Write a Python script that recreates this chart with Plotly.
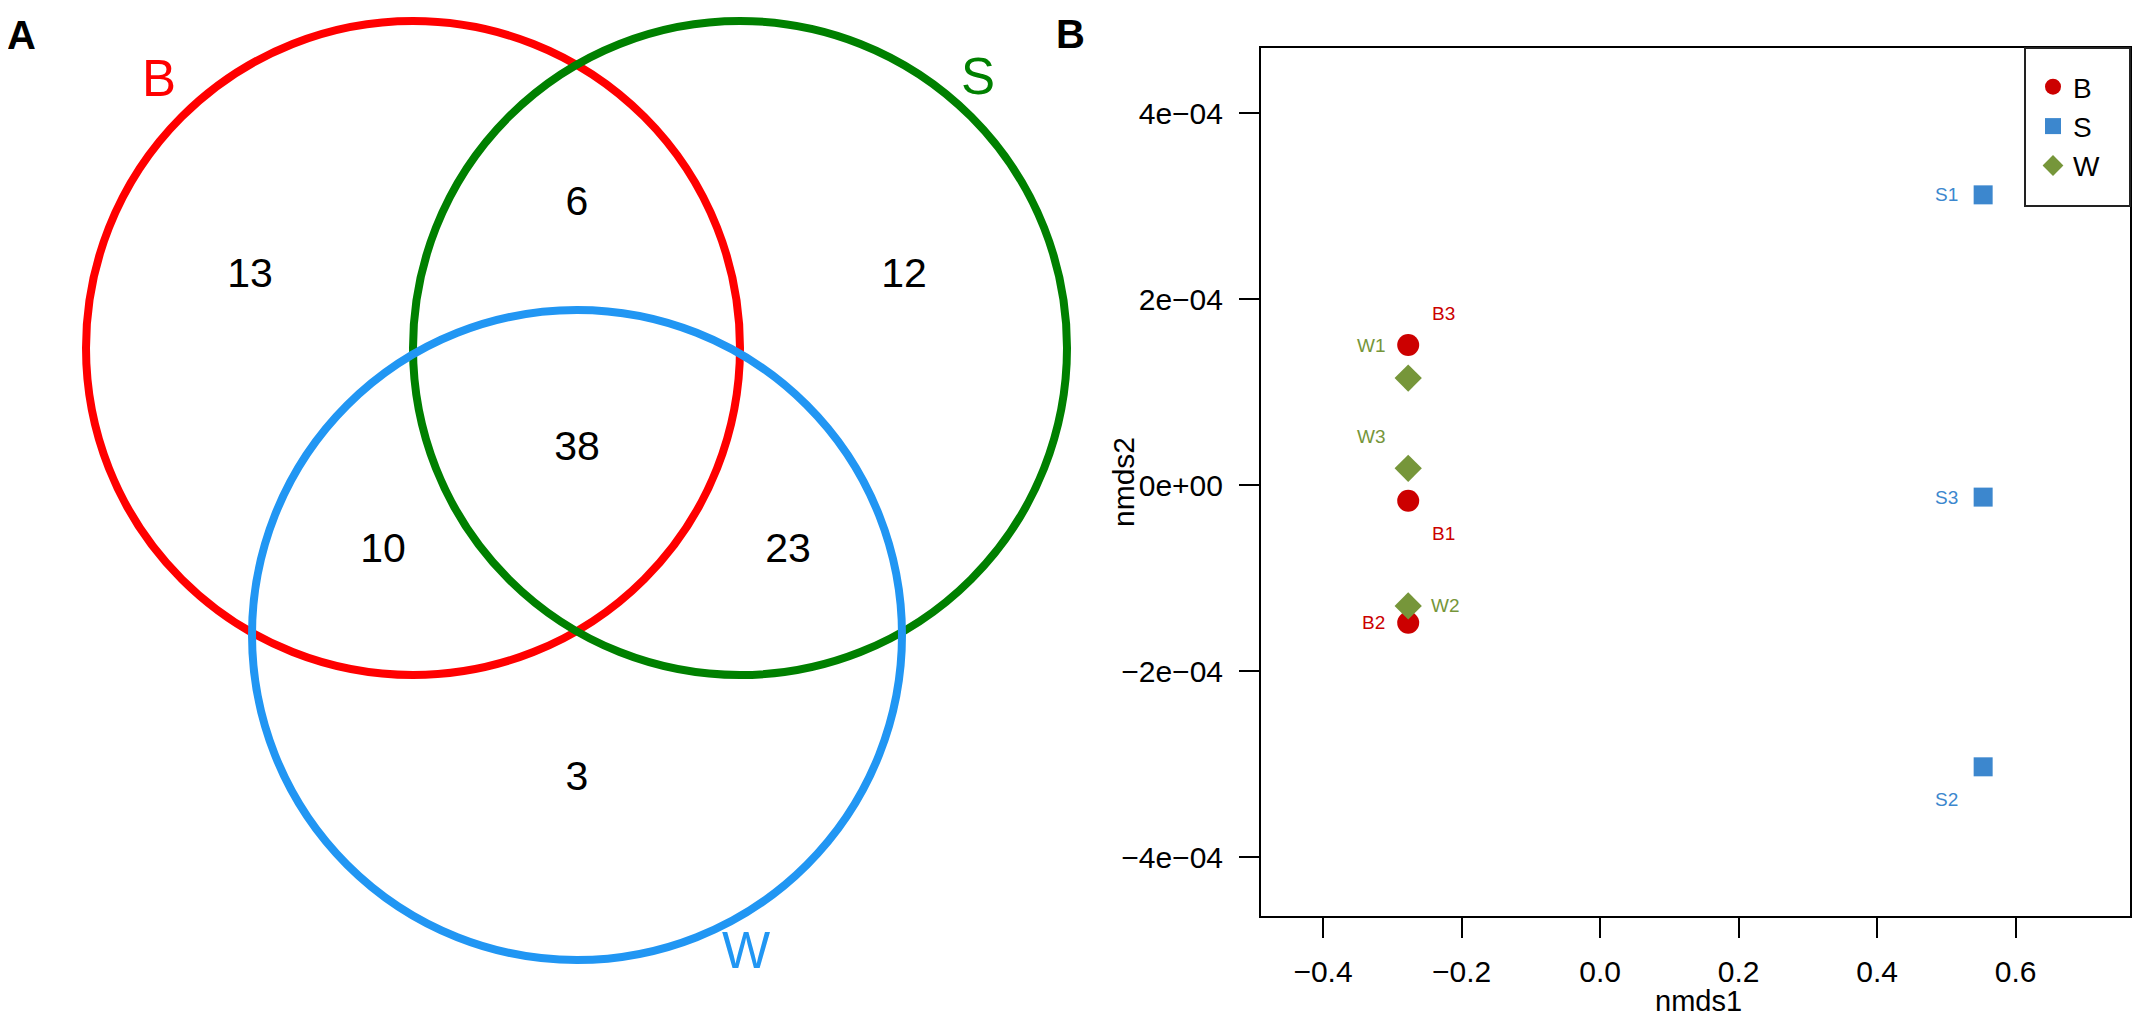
import plotly.graph_objects as go

# ---------------- data ----------------
# Venn (panel A)
set_names = ["B", "S", "W"]
venn_regions = ["B only", "B∩S", "S only", "B∩S∩W", "B∩W", "S∩W", "W only"]
venn_counts = [13, 6, 12, 38, 10, 23, 3]

# NMDS (panel B)
groups = ["B", "S", "W"]
samples_B = ["B1", "B2", "B3"]
nmds1_B = [-0.277, -0.277, -0.277]
nmds2_B = [-0.17e-4, -1.48e-4, 1.505e-4]
samples_S = ["S1", "S2", "S3"]
nmds1_S = [0.553, 0.553, 0.553]
nmds2_S = [3.12e-4, -3.03e-4, -0.13e-4]
samples_W = ["W1", "W2", "W3"]
nmds1_W = [-0.277, -0.277, -0.277]
nmds2_W = [1.15e-4, -1.30e-4, 0.18e-4]

x_ticks = [-0.4, -0.2, 0.0, 0.2, 0.4, 0.6]
y_ticks = [-4e-4, -2e-4, 0.0, 2e-4, 4e-4]
y_ticktext = ["\u22124e\u221204", "\u22122e\u221204", "0e+00", "2e\u221204", "4e\u221204"]

# ---------------- layout / style ----------------
OFF = 8                      # default page body margin
FW, FH = 2147 - 2 * OFF, 1028 - 2 * OFF
FONT = "Arial, Liberation Sans, Helvetica, sans-serif"


def px(rx):
    return (rx - OFF) / FW


def py(ry):
    return 1 - (ry - OFF) / FH


venn_colors = {"B": "#FF0000", "S": "#008000", "W": "#2196F3"}
circle_geom = {"B": (413, 348, 327), "S": (740, 348, 327), "W": (577, 635, 325)}
set_label_pos = {"B": (159, 78), "S": (978, 76), "W": (746, 950)}
region_pos = {"B only": (250, 277), "B∩S": (577, 205), "S only": (904, 277),
              "B∩S∩W": (577, 450), "B∩W": (383, 552), "S∩W": (788, 552),
              "W only": (577, 780)}

pt_colors = {"B": "#CC0000", "S": "#3C87CE", "W": "#76963A"}
pt_symbols = {"B": "circle", "S": "square", "W": "diamond"}
pt_sizes = {"B": 22, "S": 19, "W": 21}
label_shift = {"B1": (35, -33), "B2": (-35, 0), "B3": (35, 32),
               "S1": (-37, 0), "S2": (-37, -33), "S3": (-37, 0),
               "W1": (-37, 33), "W2": (37, 0), "W3": (-37, 32)}

box_l, box_r, box_t, box_b = 1261, 2130, 48, 916
x_range = [-0.4895, 0.765]
y_range = [-4.634e-4, 4.699e-4]

fig = go.Figure()

# Panel A: region counts
fig.add_trace(go.Scatter(
    x=[region_pos[r][0] for r in venn_regions],
    y=[region_pos[r][1] for r in venn_regions],
    text=[str(c) for c in venn_counts],
    mode="text", textfont=dict(family=FONT, size=41, color="black"),
    xaxis="x2", yaxis="y2", showlegend=False, hoverinfo="skip"))

shapes = []
annotations = []
for s in set_names:
    cx, cy, r = circle_geom[s]
    shapes.append(dict(type="circle", xref="x2", yref="y2",
                       x0=cx - r, x1=cx + r, y0=cy - r, y1=cy + r,
                       line=dict(color=venn_colors[s], width=8)))
    lx, ly = set_label_pos[s]
    annotations.append(dict(x=lx, y=ly, xref="x2", yref="y2", text=s, showarrow=False,
                            xanchor="center", yanchor="middle",
                            font=dict(family=FONT, size=51, color=venn_colors[s])))

# legend frame
shapes.append(dict(type="rect", xref="paper", yref="paper",
                   x0=px(2025), x1=px(2130), y0=py(206), y1=py(48),
                   line=dict(color="#222222", width=2)))

# Panel B: NMDS scatter
grp_data = {"B": (samples_B, nmds1_B, nmds2_B),
            "S": (samples_S, nmds1_S, nmds2_S),
            "W": (samples_W, nmds1_W, nmds2_W)}
for g in groups:
    names, xs, ys = grp_data[g]
    fig.add_trace(go.Scatter(
        x=xs, y=ys, mode="markers", name=g,
        marker=dict(symbol=pt_symbols[g], size=pt_sizes[g], color=pt_colors[g],
                    line=dict(width=0)),
        xaxis="x", yaxis="y"))
    for n, xv, yv in zip(names, xs, ys):
        dx, dy = label_shift[n]
        annotations.append(dict(x=xv, y=yv, xref="x", yref="y", text=n, showarrow=False,
                                xshift=dx, yshift=dy, xanchor="center", yanchor="middle",
                                font=dict(family=FONT, size=19, color=pt_colors[g])))

# axis titles and panel letters
annotations += [
    dict(x=px(1698), y=py(1001), xref="paper", yref="paper", text="nmds1",
         xanchor="center", yanchor="middle",
         showarrow=False, font=dict(family=FONT, size=29, color="black")),
    dict(x=px(1124), y=py(482), xref="paper", yref="paper", text="nmds2",
         xanchor="center", yanchor="middle",
         textangle=-90, showarrow=False, font=dict(family=FONT, size=30, color="black")),
    dict(x=px(21), y=py(35), xref="paper", yref="paper", text="<b>A</b>",
         xanchor="center", yanchor="middle",
         showarrow=False, font=dict(family=FONT, size=40, color="black")),
    dict(x=px(1070), y=py(34), xref="paper", yref="paper", text="<b>B</b>",
         xanchor="center", yanchor="middle",
         showarrow=False, font=dict(family=FONT, size=40, color="black")),
]

axis_common = dict(showgrid=False, zeroline=False, showline=True, mirror=True,
                   linecolor="black", linewidth=2, ticks="outside", ticklen=20,
                   tickwidth=2, tickcolor="black",
                   tickfont=dict(family=FONT, size=30, color="black"), fixedrange=True)

fig.update_layout(
    width=FW, height=FH, margin=dict(l=0, r=0, t=0, b=0),
    paper_bgcolor="white", plot_bgcolor="rgba(0,0,0,0)",
    font=dict(family=FONT, color="black"),
    xaxis=dict(domain=[px(box_l), px(box_r)], range=x_range, anchor="y",
               tickvals=x_ticks, tickformat=".1f", ticklabelstandoff=8, **axis_common),
    yaxis=dict(domain=[py(box_b), py(box_t)], range=y_range, anchor="x",
               tickvals=y_ticks, ticktext=y_ticktext, ticklabelstandoff=10, **axis_common),
    xaxis2=dict(domain=[0, 1], range=[OFF, FW + OFF], visible=False, anchor="y2",
                fixedrange=True),
    yaxis2=dict(domain=[0, 1], range=[FH + OFF, OFF], visible=False, anchor="x2",
                fixedrange=True),
    shapes=shapes, annotations=annotations,
    legend=dict(x=px(2033), y=py(62), xanchor="left", yanchor="top",
                bgcolor="rgba(0,0,0,0)", borderwidth=0,
                font=dict(family=FONT, size=28, color="black"),
                itemwidth=30, tracegroupgap=0),
    showlegend=True,
)

fig.write_html("out.html")
